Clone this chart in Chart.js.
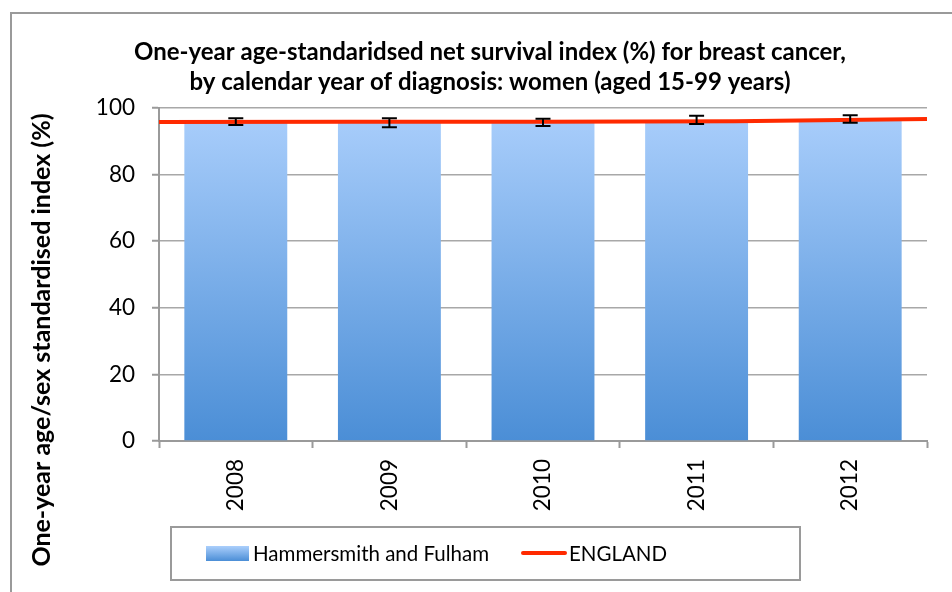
<!DOCTYPE html>
<html>
<head>
<meta charset="utf-8">
<script src="https://cdn.jsdelivr.net/npm/chart.js@4.4.1/dist/chart.umd.min.js"></script>
<style>
  html, body { margin: 0; padding: 0; background: #fff; }
  #wrap { width: 952px; height: 592px; position: relative; }
</style>
</head>
<body>
<div id="wrap"><canvas id="survivalChart" width="952" height="592"></canvas></div>
<script>
// data
const years = ['2008', '2009', '2010', '2011', '2012'];
const areaValues = [95.9, 95.5, 95.7, 96.4, 96.7];
const areaLow = [94.9, 94.2, 94.6, 95.2, 95.6];
const areaHigh = [96.9, 96.9, 96.8, 97.7, 97.8];
const englandValues = [95.8, 95.9, 95.9, 96.0, 96.7];
const yTicks = [0, 20, 40, 60, 80, 100];

const titleLines = [
    'One-year age-standaridsed net survival index (%) for breast cancer,',
    'by calendar year of diagnosis: women (aged 15-99 years)'
];
const yTitle = 'One-year age/sex standardised index (%)';
const FONT = 'Lato, "Open Sans", sans-serif';

function barGradient(ctx, top, bottom) {
    const g = ctx.createLinearGradient(0, top, 0, bottom);
    g.addColorStop(0, '#abcffc');
    g.addColorStop(1, '#4b8ed6');
    return g;
}

// error bars, outer frame, y title and legend box
const extras = {
    id: 'extras',
    beforeDraw(chart) {
        const c = chart.ctx;
        c.save();
        c.fillStyle = '#fff';
        c.fillRect(0, 0, chart.width, chart.height);
        c.strokeStyle = '#9a9a9a';
        c.lineWidth = 2;
        c.strokeRect(11, 13, 1000, 1000);
        c.restore();
    },
    afterDatasetsDraw(chart) {
        const c = chart.ctx;
        const x = chart.scales.x, y = chart.scales.y;
        c.save();
        c.strokeStyle = '#000';
        c.lineWidth = 2;
        years.forEach((yr, i) => {
            const cx = x.getPixelForValue(i);
            const y1 = y.getPixelForValue(areaLow[i]);
            const y2 = y.getPixelForValue(areaHigh[i]);
            c.beginPath();
            c.moveTo(cx, y1); c.lineTo(cx, y2);
            c.moveTo(cx - 7.5, y1); c.lineTo(cx + 7.5, y1);
            c.moveTo(cx - 7.5, y2); c.lineTo(cx + 7.5, y2);
            c.stroke();
        });
        c.restore();
    },
    afterDraw(chart) {
        const c = chart.ctx;
        c.save();
        // y axis title
        c.translate(42, 340);
        c.rotate(-Math.PI / 2);
        c.font = 'bold 25px ' + FONT;
        c.fillStyle = '#000';
        c.textAlign = 'center';
        c.textBaseline = 'middle';
        c.fillText(yTitle, 0, 0);
        c.restore();

        // legend
        c.save();
        c.strokeStyle = '#9a9a9a';
        c.lineWidth = 2;
        c.strokeRect(171, 527, 629, 53);
        c.fillStyle = barGradient(c, 546, 561);
        c.fillRect(206, 546, 43, 15);
        c.strokeStyle = '#ff2a00';
        c.lineWidth = 4;
        c.lineCap = 'round';
        c.beginPath();
        c.moveTo(523, 553); c.lineTo(565, 553);
        c.stroke();
        c.font = '20.5px ' + FONT;
        c.fillStyle = '#000';
        c.textBaseline = 'middle';
        c.fillText(chart.data.datasets[1].label, 253, 554);
        c.fillText(chart.data.datasets[0].label, 569, 554);
        c.restore();
    }
};

new Chart(document.getElementById('survivalChart'), {
    type: 'bar',
    data: {
        labels: years,
        datasets: [{
            type: 'line',
            label: 'ENGLAND',
            data: englandValues.map((v, i) => ({ x: i, y: v })),
            xAxisID: 'x2',
            borderColor: '#ff2a00',
            borderWidth: 4,
            pointRadius: 0,
            tension: 0,
            order: 0
        }, {
            type: 'bar',
            label: 'Hammersmith and Fulham',
            data: areaValues,
            xAxisID: 'x',
            grouped: false,
            backgroundColor: (ctx) => {
                const area = ctx.chart.chartArea;
                if (!area) return '#7fb0ea';
                return barGradient(ctx.chart.ctx, area.top, area.bottom);
            },
            borderWidth: 0,
            categoryPercentage: 1,
            barPercentage: 0.67,
            order: 1
        }]
    },
    options: {
        responsive: false,
        animation: false,
        layout: { padding: { left: 53, right: 25, top: 12, bottom: 0 } },
        plugins: {
            legend: { display: false },
            tooltip: { enabled: false },
            title: {
                display: true,
                text: titleLines,
                color: '#000',
                font: { family: FONT, size: 24, weight: 'bold', lineHeight: 1.25 },
                padding: { top: 25, bottom: 11 }
            }
        },
        scales: {
            x: {
                type: 'category',
                offset: true,
                grid: {
                    offset: true,
                    drawOnChartArea: false,
                    drawTicks: true,
                    tickLength: 7,
                    tickColor: '#9a9a9a',
                    tickWidth: 2
                },
                border: { display: true, color: '#9a9a9a', width: 2 },
                ticks: {
                    color: '#000',
                    font: { family: FONT, size: 22.5 },
                    minRotation: 90,
                    maxRotation: 90,
                    padding: 11
                },
                afterFit(scale) { scale.height = 151; }
            },
            x2: {
                type: 'linear',
                display: false,
                offset: false,
                min: 0,
                max: 4
            },
            y: {
                min: 0,
                max: 100,
                afterBuildTicks(scale) { scale.ticks = yTicks.map(v => ({ value: v })); },
                grid: {
                    color: '#a8a8a8',
                    lineWidth: 1.5,
                    borderDash: [3, 2],
                    drawTicks: true,
                    tickLength: 7,
                    tickColor: '#9a9a9a',
                    tickWidth: 2,
                    tickBorderDash: []
                },
                border: { display: true, color: '#9a9a9a', width: 2 },
                ticks: {
                    color: '#000',
                    font: { family: FONT, size: 22.5 },
                    padding: 17
                },
                afterFit(scale) { scale.width = 106; }
            }
        }
    },
    plugins: [extras]
});
</script>
</body>
</html>
